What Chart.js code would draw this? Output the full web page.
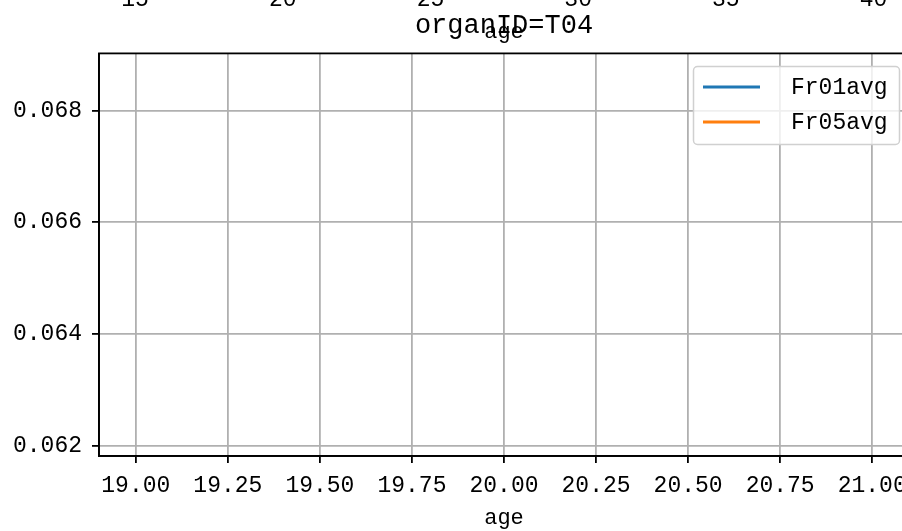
<!DOCTYPE html>
<html>
<head>
<meta charset="utf-8">
<script src="https://cdn.jsdelivr.net/npm/chart.js@4"></script>
<style>
  html, body { margin: 0; padding: 0; background: #fff; overflow: hidden; }
  #wrap { position: relative; width: 902px; height: 531px; overflow: hidden; }
  canvas { position: absolute; left: 0; }
  #mainChart { top: 0; }
  #prevChart { top: -486px; }
</style>
</head>
<body>
<div id="wrap">
  <canvas id="mainChart" width="920" height="531"></canvas>
  <canvas id="prevChart" width="920" height="531"></canvas>
</div>
<script>
// data for the organ shown (the series are empty in the reference)
const organTitle = 'organID=T04';
const seriesNames = ['Fr01avg', 'Fr05avg'];
const seriesColors = ['#1f77b4', '#ff7f0e'];
const ages = [];
const fr01avg = [];
const fr05avg = [];
const xRange = [18.9, 21.1];
const yRange = [0.06182, 0.06902];
const xTicks = [19.0, 19.25, 19.5, 19.75, 20.0, 20.25, 20.5, 20.75, 21.0];
const yTicks = [0.062, 0.064, 0.066, 0.068];

// the subplot above, only its age axis peeks in at the top
const prevXRange = [13.78, 41.2];
const prevXTicks = [15, 20, 25, 30, 35, 40];

const FONT = "'Liberation Mono', 'DejaVu Sans Mono', monospace";

// matplotlib style box round the axes (top spine)
const frame = {
    id: 'frame',
    afterDraw(chart) {
        const a = chart.chartArea;
        const ctx = chart.ctx;
        ctx.save();
        ctx.strokeStyle = '#000';
        ctx.lineWidth = 1.8;
        ctx.strokeRect(a.left, a.top, a.right - a.left, a.bottom - a.top);
        ctx.restore();
    }
};

const insideLegend = {
    id: 'insideLegend',
    afterDraw(chart) {
        const ctx = chart.ctx;
        ctx.save();
        ctx.beginPath();
        ctx.roundRect(693.5, 66.5, 206, 78, 4);
        ctx.fillStyle = 'rgba(255,255,255,0.8)';
        ctx.fill();
        ctx.strokeStyle = '#d0d0d0';
        ctx.lineWidth = 1.5;
        ctx.stroke();
        chart.data.datasets.forEach((ds, i) => {
            const y = 87 + i * 35;
            ctx.strokeStyle = ds.borderColor;
            ctx.lineWidth = 3;
            ctx.beginPath();
            ctx.moveTo(703, y);
            ctx.lineTo(760, y);
            ctx.stroke();
            ctx.fillStyle = '#000';
            ctx.font = '23px ' + FONT;
            ctx.textBaseline = 'middle';
            ctx.textAlign = 'left';
            ctx.fillText(ds.label, 791, y + 1);
        });
        ctx.restore();
    }
};

function buildOptions(rangeX, ticksX, decimals, showTitle) {
    return {
        responsive: false,
        animation: false,
        layout: { padding: { left: 0, right: 11, top: showTitle ? 0 : 53, bottom: 0 } },
        plugins: {
            legend: { display: false },
            tooltip: { enabled: false },
            title: {
                display: showTitle,
                fullSize: false,
                text: organTitle,
                color: '#000',
                font: { family: FONT, size: 27, weight: 'normal' },
                padding: { top: 10, bottom: 11 }
            }
        },
        scales: {
            x: {
                type: 'linear',
                min: rangeX[0],
                max: rangeX[1],
                afterBuildTicks: axis => { axis.ticks = ticksX.map(v => ({ value: v })); },
                afterFit: axis => { axis.height = 75; },
                ticks: {
                    color: '#000',
                    font: { family: FONT, size: 23 },
                    padding: 9,
                    maxRotation: 0,
                    callback: v => v.toFixed(decimals)
                },
                grid: { color: '#b0b0b0', lineWidth: 1.8, tickColor: '#000', tickLength: 7 },
                border: { color: '#000', width: 1.8 },
                title: {
                    display: true,
                    text: 'age',
                    color: '#000',
                    font: { family: FONT, size: 22 },
                    padding: { top: 0, bottom: 0 }
                }
            },
            y: {
                type: 'linear',
                min: yRange[0],
                max: yRange[1],
                afterBuildTicks: axis => { axis.ticks = yTicks.map(v => ({ value: v })); },
                afterFit: axis => { axis.width = 99; },
                ticks: {
                    color: '#000',
                    font: { family: FONT, size: 23 },
                    padding: 10,
                    callback: v => v.toFixed(3)
                },
                grid: { color: '#b0b0b0', lineWidth: 1.8, tickColor: '#000', tickLength: 7 },
                border: { color: '#000', width: 1.8 }
            }
        }
    };
}

function buildDatasets() {
    const values = [fr01avg, fr05avg];
    return seriesNames.map((name, i) => ({
        label: name,
        data: ages.map((a, j) => ({ x: a, y: values[i][j] })),
        borderColor: seriesColors[i],
        backgroundColor: seriesColors[i],
        borderWidth: 3,
        pointRadius: 0
    }));
}

new Chart(document.getElementById('mainChart'), {
    type: 'line',
    data: { datasets: buildDatasets() },
    options: buildOptions(xRange, xTicks, 2, true),
    plugins: [frame, insideLegend]
});

new Chart(document.getElementById('prevChart'), {
    type: 'line',
    data: { datasets: buildDatasets() },
    options: buildOptions(prevXRange, prevXTicks, 0, false),
    plugins: [frame]
});
</script>
</body>
</html>
